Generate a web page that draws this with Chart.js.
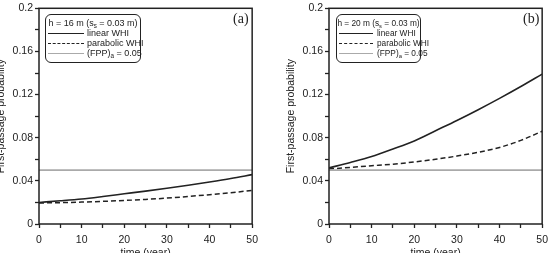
<!DOCTYPE html>
<html>
<head>
<meta charset="utf-8">
<script src="https://cdn.jsdelivr.net/npm/chart.js@4.4.1/dist/chart.umd.min.js"></script>
<style>
    html, body { margin: 0; padding: 0; background: #fff; }
    #stage { position: relative; width: 551px; height: 253px; overflow: hidden; font-family: "Liberation Sans", Arial, sans-serif; }
    .panel { position: absolute; top: 0; width: 270px; height: 260px; }
    .legend { position: absolute; border: 1.5px solid #222; border-radius: 6px; background: #fff; color: #222; box-sizing: border-box; }
    .legend div { position: absolute; left: 0; right: 0; height: 10px; line-height: 10px; white-space: nowrap; }
    .legend .ttl { text-align: center; }
    .legend .sample { position: absolute; top: 5px; left: 2px; }
    .legend .lbl { position: absolute; top: 0; }
    .legend sub { font-size: 70%; line-height: 0; vertical-align: -2px; }
    .tag { position: absolute; font-family: "Liberation Serif", "DejaVu Serif", serif; font-size: 14px; color: #222; }
</style>
</head>
<body>
<div id="stage">
    <div class="panel" style="left:-6px"><canvas id="chartA"></canvas></div>
    <div class="panel" style="left:284px"><canvas id="chartB"></canvas></div>

    <div class="legend" style="left:45px;top:14px;width:96px;height:49px;font-size:9px;">
        <div class="ttl" style="top:3px">h = 16 m (s<sub>s</sub> = 0.03 m)</div>
        <div style="top:13px"><span class="sample" style="width:36px;border-top:1.5px solid #222"></span><span class="lbl" style="left:41px">linear WHI</span></div>
        <div style="top:23px"><span class="sample" style="width:36px;border-top:1.5px dashed #222"></span><span class="lbl" style="left:41px">parabolic WHI</span></div>
        <div style="top:33px"><span class="sample" style="width:36px;border-top:1.5px solid #aaa"></span><span class="lbl" style="left:41px">(FPP)<sub>a</sub> = 0.05</span></div>
    </div>
    <div class="legend" style="left:336px;top:14px;width:85px;height:49px;font-size:8.3px;">
        <div class="ttl" style="top:3px">h = 20 m (s<sub>s</sub> = 0.03 m)</div>
        <div style="top:13px"><span class="sample" style="width:34px;border-top:1.5px solid #222"></span><span class="lbl" style="left:40px">linear WHI</span></div>
        <div style="top:23px"><span class="sample" style="width:34px;border-top:1.5px dashed #222"></span><span class="lbl" style="left:40px">parabolic WHI</span></div>
        <div style="top:33px"><span class="sample" style="width:34px;border-top:1.5px solid #aaa"></span><span class="lbl" style="left:40px">(FPP)<sub>a</sub> = 0.05</span></div>
    </div>

    <div class="tag" style="left:233px;top:11px">(a)</div>
    <div class="tag" style="left:523px;top:11px">(b)</div>
</div>

<script>
// time axis (years)
const years = [0, 5, 10, 15, 20, 25, 30, 35, 40, 45, 50];

// panel (a): h = 16 m
const linearA    = [0.0200, 0.0215, 0.0232, 0.0255, 0.0280, 0.0305, 0.0332, 0.0360, 0.0390, 0.0422, 0.0458];
const parabolicA = [0.0195, 0.0198, 0.0203, 0.0210, 0.0218, 0.0228, 0.0240, 0.0255, 0.0272, 0.0290, 0.0312];

// panel (b): h = 20 m
const linearB    = [0.0520, 0.0570, 0.0625, 0.0695, 0.0770, 0.0865, 0.0960, 0.1060, 0.1165, 0.1275, 0.1390];
const parabolicB = [0.0510, 0.0525, 0.0540, 0.0555, 0.0575, 0.0600, 0.0630, 0.0665, 0.0710, 0.0775, 0.0860];

// allowable first-passage probability
const fppLimit = 0.05;

const xTickLabels = [0, 10, 20, 30, 40, 50];
const yTickLabels = [0, 0.04, 0.08, 0.12, 0.16, 0.2];

const INK = '#222';
const CANVAS_W = 270;
const CANVAS_H = 260;
const AXIS_FONT = { family: 'Liberation Sans', size: 10.5 };

// Draw the box frame around the plot area
const framePlugin = {
    id: 'frame',
    afterDraw(chart) {
        const { ctx, chartArea: a } = chart;
        ctx.save();
        ctx.strokeStyle = INK;
        ctx.lineWidth = 1.5;
        ctx.strokeRect(a.left, a.top, a.right - a.left, a.bottom - a.top);
        ctx.restore();
    }
};

function toPoints(values) {
    return years.map((t, i) => ({ x: t, y: values[i] }));
}

function makePanel(canvasId, linear, parabolic) {
    const ctx = document.getElementById(canvasId);
    return new Chart(ctx, {
        type: 'line',
        data: {
            datasets: [
                {
                    label: '(FPP)a = 0.05',
                    data: [{ x: years[0], y: fppLimit }, { x: years[years.length - 1], y: fppLimit }],
                    borderColor: '#aaa',
                    borderWidth: 1.6,
                    pointRadius: 0
                },
                {
                    label: 'parabolic WHI',
                    data: toPoints(parabolic),
                    borderColor: INK,
                    borderWidth: 1.5,
                    borderDash: [5, 3],
                    pointRadius: 0,
                    cubicInterpolationMode: 'monotone'
                },
                {
                    label: 'linear WHI',
                    data: toPoints(linear),
                    borderColor: INK,
                    borderWidth: 1.6,
                    pointRadius: 0,
                    cubicInterpolationMode: 'monotone'
                }
            ]
        },
        options: {
            responsive: false,
            animation: false,
            layout: { padding: { top: 7, right: 6, left: 0, bottom: 0 } },
            plugins: {
                legend: { display: false },
                tooltip: { enabled: false }
            },
            scales: {
                x: {
                    type: 'linear',
                    min: 0,
                    max: 50,
                    afterFit(scale) { scale.height = 36; },
                    border: { display: false },
                    grid: {
                        drawOnChartArea: false,
                        tickLength: 4,
                        tickColor: INK,
                        tickWidth: 1.3
                    },
                    ticks: {
                        stepSize: 5,
                        autoSkip: false,
                        maxRotation: 0,
                        padding: 6,
                        color: INK,
                        font: AXIS_FONT,
                        callback: (v) => xTickLabels.includes(v) ? String(v) : ''
                    },
                    title: {
                        display: true,
                        text: 'time (year)',
                        color: INK,
                        padding: { top: 0, bottom: 1 },
                        font: AXIS_FONT
                    }
                },
                y: {
                    min: 0,
                    max: 0.2,
                    afterFit(scale) { scale.width = 45; },
                    border: { display: false },
                    grid: {
                        drawOnChartArea: false,
                        tickLength: 4,
                        tickColor: INK,
                        tickWidth: 1.3
                    },
                    ticks: {
                        stepSize: 0.02,
                        autoSkip: false,
                        padding: 2,
                        color: INK,
                        font: AXIS_FONT,
                        callback: (v) => {
                            const hit = yTickLabels.find(t => Math.abs(t - v) < 1e-9);
                            return hit === undefined ? '' : String(hit);
                        }
                    },
                    title: {
                        display: true,
                        text: 'First-passage probability',
                        color: INK,
                        padding: { top: 1, bottom: 1 },
                        font: AXIS_FONT
                    }
                }
            }
        },
        plugins: [framePlugin]
    });
}

function sizeCanvas(id) {
    const c = document.getElementById(id);
    c.width = CANVAS_W;
    c.height = CANVAS_H;
    c.style.width = CANVAS_W + 'px';
    c.style.height = CANVAS_H + 'px';
}

sizeCanvas('chartA');
sizeCanvas('chartB');
makePanel('chartA', linearA, parabolicA);
makePanel('chartB', linearB, parabolicB);
</script>
</body>
</html>
